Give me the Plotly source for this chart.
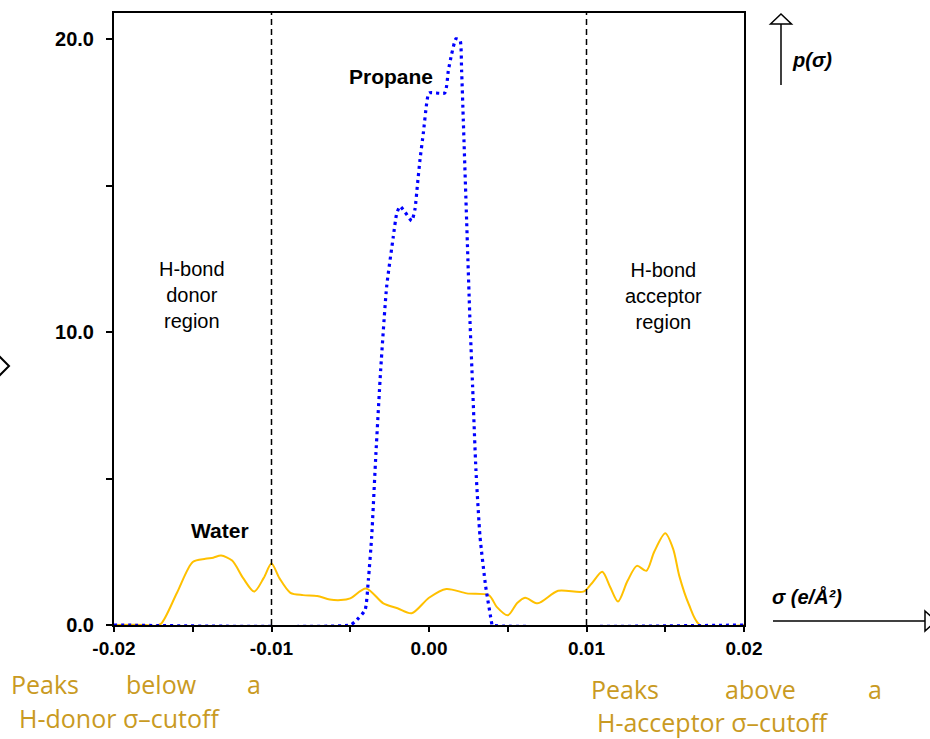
import plotly.graph_objects as go

# ---------------- data ----------------
water_sigma = [-0.0200, -0.0180, -0.0174, -0.0170, -0.0160, -0.0150, -0.0142, -0.0137, -0.0132,
               -0.0125, -0.0118, -0.0111, -0.0105, -0.0100, -0.0095, -0.0088, -0.0080, -0.0071,
               -0.0063, -0.0056, -0.0050, -0.0040, -0.0029, -0.0020, -0.0011, 0.0000, 0.0011,
               0.0024, 0.0038, 0.0043, 0.0050, 0.0056, 0.0061, 0.0069, 0.0082, 0.0098, 0.0103,
               0.0110, 0.0115, 0.0120, 0.0126, 0.0132, 0.0138, 0.0143, 0.0150, 0.0155, 0.0159,
               0.0165, 0.0172, 0.0200]
water_p = [0.0, 0.0, -0.03, 0.05, 1.1, 2.15, 2.26, 2.3, 2.37,
           2.2, 1.6, 1.14, 1.6, 2.1, 1.6, 1.1, 1.02, 0.99,
           0.87, 0.85, 0.91, 1.25, 0.74, 0.57, 0.4, 0.93, 1.23,
           1.08, 1.02, 0.62, 0.33, 0.75, 0.93, 0.74, 1.17, 1.14, 1.4,
           1.82, 1.3, 0.8, 1.5, 2.02, 1.85, 2.5, 3.13, 2.6, 1.66,
           0.7, 0.0, 0.0]

propane_sigma = [-0.0200, -0.0050, -0.0047, -0.00406, -0.00385, -0.00364, -0.00337, -0.00307,
                 -0.00269, -0.00227, -0.00205, -0.00184, -0.00152, -0.0011, -0.00089, -0.00074,
                 -0.00057, -0.00036, -0.00015, 0.0000, 0.0010, 0.00123, 0.00144, 0.00171,
                 0.00197, 0.00207, 0.00218, 0.00239, 0.0026, 0.00277, 0.00298, 0.00324,
                 0.0036, 0.00398, 0.0040, 0.0200]
propane_p = [0.0, 0.0, 0.11, 0.51, 1.54, 3.01, 5.86, 8.7,
             11.55, 13.25, 14.05, 14.3, 14.1, 13.8, 14.2, 15.0,
             15.9, 16.8, 17.8, 18.17, 18.17, 18.94, 19.5, 20.02,
             19.97, 18.94, 17.2, 13.8, 10.4, 8.13, 5.29, 3.01,
             1.31, 0.06, 0.0, 0.0]

x_tickvals = [-0.02, -0.015, -0.01, -0.005, 0.0, 0.005, 0.01, 0.015, 0.02]
x_ticklabels = ["-0.02", "", "-0.01", "", "0.00", "", "0.01", "", "0.02"]
y_tickvals = [0, 5, 10, 15, 20]
y_ticklabels = ["0.0", "", "10.0", "", "20.0"]
cutoffs = [-0.01, 0.01]

# ---------------- layout helpers (pixel -> paper) ----------------
L, R, T, B = 114, 744, 13, 625
def px(x):
    return (x - L) / (R - L)
def py(y):
    return (B - y) / (B - T)

fig = go.Figure()
fig.add_trace(go.Scatter(x=water_sigma, y=water_p, mode="lines", name="Water",
                         line=dict(color="#FFC000", width=2, shape="spline", smoothing=0.8),
                         showlegend=False))
fig.add_trace(go.Scatter(x=propane_sigma, y=propane_p, mode="lines", name="Propane",
                         line=dict(color="#0000FF", width=3.2, dash="3px,4px", shape="spline", smoothing=0.5),
                         showlegend=False))

shapes = []
for c in cutoffs:
    shapes.append(dict(type="line", xref="x", yref="paper", x0=c, x1=c, y0=0, y1=1,
                       line=dict(color="black", width=1.5, dash="6px,4px")))

def path(points, close=False):
    s = "M " + " L ".join(f"{px(a):.5f},{py(b):.5f}" for a, b in points)
    return s + (" Z" if close else "")

# top arrow p(sigma)
shapes.append(dict(type="path", xref="paper", yref="paper", path=path([(781, 85), (781, 24)]),
                   line=dict(color="black", width=1.5)))
shapes.append(dict(type="path", xref="paper", yref="paper",
                   path=path([(770.5, 24), (781, 14), (791.5, 24)], close=True),
                   line=dict(color="black", width=1.5), fillcolor="white"))
# right arrow sigma
shapes.append(dict(type="path", xref="paper", yref="paper", path=path([(773, 621), (925, 621)]),
                   line=dict(color="black", width=1.5)))
shapes.append(dict(type="path", xref="paper", yref="paper",
                   path=path([(925, 611), (936, 621), (925, 631)], close=True),
                   line=dict(color="black", width=1.5), fillcolor="white"))
# left arrow head (partially off-canvas)
shapes.append(dict(type="path", xref="paper", yref="paper",
                   path=path([(-2, 355), (9, 366), (-2, 377)]),
                   line=dict(color="black", width=2)))

ann = []
def txt(text, x, y, size, color="black", family="Liberation Sans", xanchor="center"):
    ann.append(dict(text=text, x=px(x), y=py(y), xref="paper", yref="paper", showarrow=False,
                    xanchor=xanchor, yanchor="middle", font=dict(size=size, color=color, family=family)))

txt("<b>Water</b>", 220, 530, 21)
txt("<b>Propane</b>", 391, 77, 21)
txt("H-bond<br>donor<br>region", 192, 295, 20)
txt("H-bond<br>acceptor<br>region", 663, 296, 20)
txt("<b><i>p(σ)</i></b>", 790, 60, 20, xanchor="left")
txt("<b><i>σ (e/Å²)</i></b>", 770, 596, 20, xanchor="left")

gold = "#C99A22"
gf = "Open Sans"
txt("Peaks", 9, 684, 25, gold, gf, "left")
txt("below", 124, 684, 25, gold, gf, "left")
txt("a", 245, 684, 25, gold, gf, "left")
txt("H-donor σ–cutoff", 17, 718, 25, gold, gf, "left")
txt("Peaks", 589, 689, 25, gold, gf, "left")
txt("above", 723, 689, 25, gold, gf, "left")
txt("a", 866, 689, 25, gold, gf, "left")
txt("H-acceptor σ–cutoff", 595, 722, 25, gold, gf, "left")

fig.update_layout(
    width=930, height=739,
    margin=dict(l=L, r=930 - R, t=T, b=739 - B),
    paper_bgcolor="white", plot_bgcolor="white",
    shapes=shapes, annotations=ann,
    xaxis=dict(range=[-0.02, 0.02], tickvals=x_tickvals,
               ticktext=[f"<b>{t}</b>" if t else "" for t in x_ticklabels],
               ticks="outside", ticklen=5, tickwidth=2, tickcolor="black",
               showline=True, linecolor="black", linewidth=2, mirror=True,
               showgrid=False, zeroline=False,
               tickfont=dict(family="Liberation Sans", size=19, color="black")),
    yaxis=dict(range=[0, 20.9], tickvals=y_tickvals,
               ticktext=[f"<b>{t}</b>" if t else "" for t in y_ticklabels],
               ticks="outside", ticklen=6, tickwidth=2, tickcolor="black",
               showline=True, linecolor="black", linewidth=2, mirror=True,
               showgrid=False, zeroline=False, ticklabelstandoff=8,
               tickfont=dict(family="Liberation Sans", size=20, color="black")),
)

fig.write_html("out.html", config={"displayModeBar": False},
               post_script="document.body.style.margin='0';document.body.style.overflow='hidden';")
